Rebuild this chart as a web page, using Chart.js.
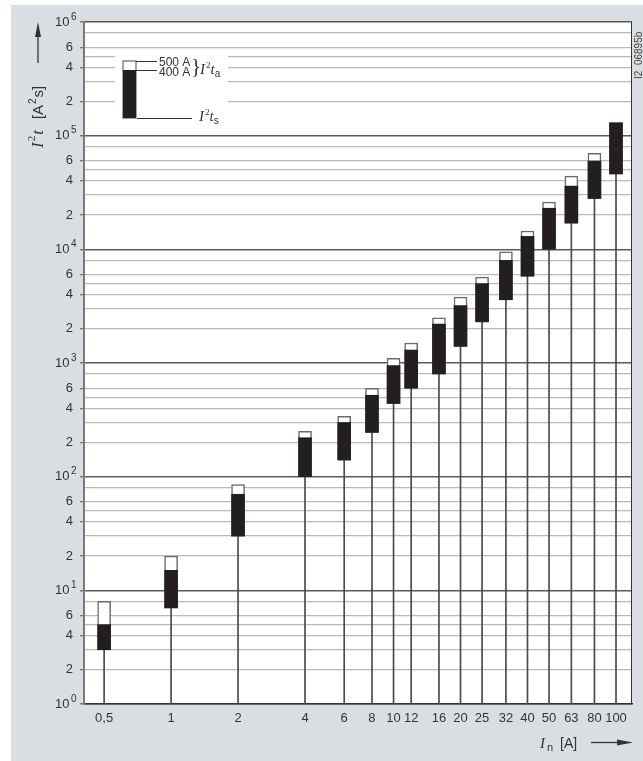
<!DOCTYPE html>
<html>
<head>
<meta charset="utf-8">
<script src="https://cdn.jsdelivr.net/npm/chart.js@4.4.1/dist/chart.umd.min.js"></script>
<style>
html, body { margin: 0; padding: 0; background: #fff; }
#wrap { width: 643px; height: 761px; position: relative; }
</style>
</head>
<body>
<div id="wrap"><canvas id="chart-1"></canvas></div>
<script>
// rated current In [A]
const currents = [0.5, 1, 2, 4, 6, 8, 10, 12, 16, 20, 25, 32, 40, 50, 63, 80, 100];
const currentLabels = ["0,5", "1", "2", "4", "6", "8", "10", "12", "16", "20", "25", "32", "40", "50", "63", "80", "100"];
// I2t values [A2s]
const i2tS = [3, 7, 30, 100, 140, 245, 440, 600, 800, 1400, 2300, 3600, 5800, 10000, 17000, 28000, 46000];
const i2tA400 = [5, 15, 70, 220, 300, 520, 950, 1300, 2200, 3200, 5000, 8000, 13000, 23000, 36000, 60000, 130000];
const i2tA500 = [8, 20, 85, 250, 340, 600, 1100, 1500, 2500, 3800, 5700, 9500, 14500, 26000, 44000, 70000, 130000];

// y axis ticks
const decades = [1, 10, 100, 1000, 10000, 100000, 1000000];
const decadeExponents = ["0", "1", "2", "3", "4", "5", "6"];
const gridSteps = [1, 2, 3, 4, 5, 6, 8];
const labeledSteps = [2, 4, 6];

const yGrid = [];
decades.forEach(d => {
  if (d === 1000000) { yGrid.push(d); return; }
  gridSteps.forEach(s => yGrid.push(s * d));
});

function isDecade(v) {
  return decades.some(d => Math.abs(v / d - 1) < 1e-9);
}
function stepOf(v) {
  const e = Math.floor(Math.log10(v) + 1e-9);
  return Math.round(v / Math.pow(10, e));
}
function yLabel(v) {
  if (isDecade(v)) return "10 ";
  const s = stepOf(v);
  return labeledSteps.includes(s) ? String(s) : "";
}

const SANS = "'Liberation Sans', Arial, sans-serif";
const SERIF = "'Liberation Serif', 'Times New Roman', serif";
const TXT = "#333";

// draw text pieces with different fonts one after another
function drawRuns(ctx, runs, x, y) {
  let cx = x;
  runs.forEach(r => {
    ctx.font = r.font;
    ctx.fillText(r.t, cx + (r.dx || 0), y + (r.dy || 0));
    cx += ctx.measureText(r.t).width + (r.dx || 0);
  });
  return cx;
}

const backdrop = {
  id: "backdrop",
  beforeDraw(chart) {
    const { ctx, chartArea: a, width, height } = chart;
    ctx.save();
    ctx.fillStyle = "#fff";
    ctx.fillRect(0, 0, width, height);
    ctx.fillStyle = "#dadee2";
    ctx.fillRect(11, 5, width - 11, height - 5);
    ctx.fillStyle = "#fff";
    ctx.fillRect(a.left, a.top, a.right - a.left, a.bottom - a.top);
    ctx.restore();
  }
};

const annotations = {
  id: "annotations",
  afterDatasetsDraw(chart) {
    const { ctx } = chart;
    ctx.save();
    // key box
    ctx.fillStyle = "#fff";
    ctx.fillRect(115, 52, 113, 76);
    ctx.strokeStyle = "#666";
    ctx.lineWidth = 1.2;
    ctx.fillRect(123, 61, 13, 57);
    ctx.strokeRect(123, 61, 13, 57);
    ctx.fillStyle = "#231f20";
    ctx.fillRect(123, 70, 13, 48);
    ctx.strokeStyle = "#333";
    ctx.lineWidth = 1;
    ctx.beginPath();
    ctx.moveTo(136, 61.5); ctx.lineTo(157, 61.5);
    ctx.moveTo(136, 70.5); ctx.lineTo(157, 70.5);
    ctx.moveTo(137, 118.5); ctx.lineTo(192, 118.5);
    ctx.stroke();
    ctx.fillStyle = TXT;
    ctx.textBaseline = "middle";
    ctx.font = "12px " + SANS;
    ctx.fillText("500 A", 159, 62.5);
    ctx.fillText("400 A", 159, 72.5);
    ctx.font = "21px " + SERIF;
    ctx.fillText("}", 191, 67);
    ctx.textBaseline = "alphabetic";
    drawRuns(ctx, [
      { t: "I", font: "italic 15px " + SERIF },
      { t: "2", font: "9px " + SERIF, dy: -6, dx: 1 },
      { t: "t", font: "italic 15px " + SERIF },
      { t: "a", font: "10px " + SANS, dy: 3 }
    ], 200, 74);
    drawRuns(ctx, [
      { t: "I", font: "italic 15px " + SERIF },
      { t: "2", font: "9px " + SERIF, dy: -6, dx: 1 },
      { t: "t", font: "italic 15px " + SERIF },
      { t: "s", font: "10px " + SANS, dy: 3 }
    ], 199, 121);
    ctx.restore();
  },
  afterDraw(chart) {
    const { ctx, chartArea: a } = chart;
    const yScale = chart.scales.y;
    ctx.save();
    // frame on the right
    ctx.strokeStyle = "#333";
    ctx.lineWidth = 1;
    ctx.beginPath();
    ctx.moveTo(a.right - 0.5, a.top);
    ctx.lineTo(a.right - 0.5, a.bottom);
    ctx.stroke();

    ctx.fillStyle = TXT;
    ctx.strokeStyle = TXT;

    // exponents of the decade labels
    ctx.font = "10px " + SANS;
    ctx.textAlign = "left";
    ctx.textBaseline = "middle";
    decades.forEach((d, i) => {
      ctx.fillText(decadeExponents[i], 71, yScale.getPixelForValue(d) - 5);
    });

    // y axis title, rotated
    ctx.save();
    ctx.translate(43, 148);
    ctx.rotate(-Math.PI / 2);
    ctx.textBaseline = "alphabetic";
    ctx.textAlign = "left";
    drawRuns(ctx, [
      { t: "I", font: "italic 17px " + SERIF },
      { t: "2", font: "11px " + SERIF, dy: -8, dx: 1 },
      { t: "t", font: "italic 17px " + SERIF, dx: 1 },
      { t: "[A", font: "15px " + SANS, dx: 11 },
      { t: "2", font: "10px " + SANS, dy: -7, dx: 1 },
      { t: "s]", font: "15px " + SANS, dx: 1 }
    ], 0, 0);
    ctx.restore();
    // y arrow
    ctx.lineWidth = 1.3;
    ctx.beginPath();
    ctx.moveTo(38, 63); ctx.lineTo(38, 34);
    ctx.stroke();
    ctx.beginPath();
    ctx.moveTo(38, 22); ctx.lineTo(41, 37); ctx.lineTo(35, 37); ctx.closePath();
    ctx.fill();

    // x axis title
    ctx.textBaseline = "alphabetic";
    drawRuns(ctx, [
      { t: "I", font: "italic 15px " + SERIF },
      { t: "n", font: "11px " + SANS, dy: 3, dx: 2 },
      { t: "[A]", font: "14px " + SANS, dx: 7 }
    ], 540, 748);
    ctx.beginPath();
    ctx.moveTo(591, 742.5); ctx.lineTo(620, 742.5);
    ctx.stroke();
    ctx.beginPath();
    ctx.moveTo(633, 742.5); ctx.lineTo(617, 739.5); ctx.lineTo(617, 745.5); ctx.closePath();
    ctx.fill();

    // drawing number at the right edge
    ctx.save();
    ctx.translate(642, 79);
    ctx.rotate(-Math.PI / 2);
    ctx.font = "10px " + SANS;
    ctx.fillStyle = "#444";
    ctx.fillText("I2_06895b", 0, 0);
    ctx.restore();
    ctx.restore();
  }
};

const ctx1 = document.getElementById("chart-1").getContext("2d");
const myChart = new Chart(ctx1, {
  type: "bar",
  data: {
    datasets: [
      {
        label: "I2t a 400 A",
        data: currents.map((c, i) => ({ x: c, y: [i2tS[i], i2tA400[i]] })),
        backgroundColor: "#231f20",
        borderWidth: 0,
        maxBarThickness: 13,
        order: 0
      },
      {
        label: "I2t a 500 A",
        data: currents.map((c, i) => ({ x: c, y: [i2tS[i], i2tA500[i]] })),
        backgroundColor: "#fff",
        borderColor: "#6a6a6a",
        borderWidth: 1.5,
        borderSkipped: false,
        maxBarThickness: 13,
        order: 1
      },
      {
        label: "stem",
        data: currents.map((c, i) => ({ x: c, y: [1, i2tS[i]] })),
        backgroundColor: "#4a4a4a",
        borderWidth: 0,
        maxBarThickness: 1,
        order: 2
      }
    ]
  },
  options: {
    responsive: true,
    maintainAspectRatio: false,
    animation: false,
    grouped: false,
    categoryPercentage: 1,
    barPercentage: 1,
    layout: { padding: { top: 22, right: 11, left: 0, bottom: 0 } },
    plugins: {
      legend: { display: false },
      tooltip: { enabled: false }
    },
    scales: {
      x: {
        type: "logarithmic",
        min: 0.406,
        max: 118,
        bounds: "data",
        grid: { display: false, drawTicks: false },
        border: { display: true, color: "#333", width: 1.5 },
        afterBuildTicks: (scale) => {
          scale.ticks = currents.map(v => ({ value: v }));
        },
        afterFit: (scale) => { scale.height = 57; },
        ticks: {
          autoSkip: false,
          maxRotation: 0,
          padding: 7,
          color: TXT,
          font: { family: SANS, size: 13 },
          callback: (v) => {
            const i = currents.indexOf(v);
            return i >= 0 ? currentLabels[i] : "";
          }
        }
      },
      y: {
        type: "logarithmic",
        min: 1,
        max: 1000000,
        bounds: "data",
        afterBuildTicks: (scale) => {
          scale.ticks = yGrid.map(v => ({ value: v }));
        },
        afterFit: (scale) => { scale.width = 84; },
        grid: {
          color: (c) => (c.tick && isDecade(c.tick.value)) ? "#5a5a5a" : "#b9b9b9",
          lineWidth: (c) => (c.tick && isDecade(c.tick.value)) ? 1.5 : 1.3,
          tickColor: (c) => (c.tick && yLabel(c.tick.value) !== "") ? "#777" : "rgba(0,0,0,0)",
          tickLength: 4,
          drawTicks: true
        },
        border: { display: true, color: "#7a7a7a", width: 2 },
        ticks: {
          autoSkip: false,
          padding: 7,
          color: TXT,
          font: { family: SANS, size: 13 },
          callback: (v) => yLabel(v)
        }
      }
    }
  },
  plugins: [backdrop, annotations]
});
</script>
</body>
</html>
